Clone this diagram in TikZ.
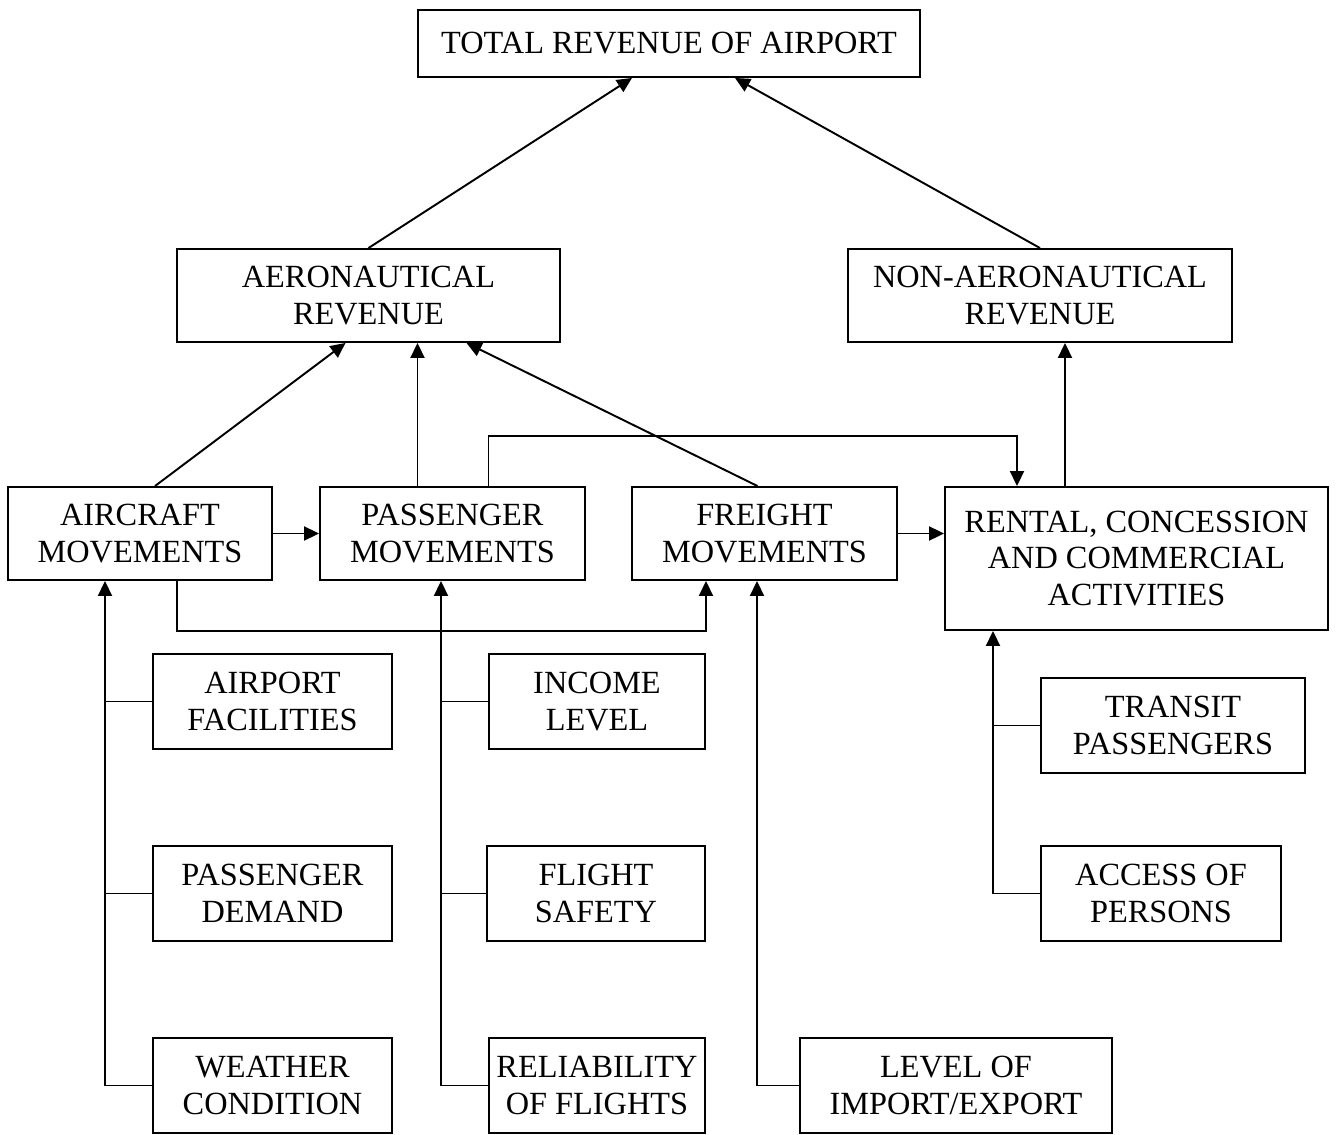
\documentclass[tikz,border=0pt]{standalone}
\usepackage{fontspec}
\setmainfont{Liberation Serif}
\usetikzlibrary{calc,arrows.meta}
\tikzset{
    box/.style={draw, line width=1.1pt, align=center, inner sep=0pt,
      font=\fontsize{18.4}{21}\selectfont},
    arr/.style={line width=1.1pt, -{Triangle[length=0.3cm,width=0.28cm]}},
    lin/.style={line width=1.1pt},
  }
\begin{document}
\begin{tikzpicture}[x=0.02cm,y=-0.02cm]
				  \useasboundingbox (0,0) rectangle (1336,1135);

				  %revenue
				  \node[box, minimum width=10.04cm, minimum height=1.34cm] (total) at (669,43.5) {TOTAL REVENUE OF AIRPORT};
				  \node[box, minimum width=7.66cm, minimum height=1.86cm] (aero) at (368.5,295.5) {AERONAUTICAL\\REVENUE};
				  \node[box, minimum width=7.68cm, minimum height=1.86cm] (nonaero) at (1040,295.5) {NON-AERONAUTICAL\\REVENUE};

				  %movements
				  \node[box, minimum width=5.28cm, minimum height=1.86cm] (aircraft) at (140,533.5) {AIRCRAFT\\MOVEMENTS};
				  \node[box, minimum width=5.3cm, minimum height=1.86cm] (passenger) at (452.5,533.5) {PASSENGER\\MOVEMENTS};
				  \node[box, minimum width=5.3cm, minimum height=1.86cm] (freight) at (764.5,533.5) {FREIGHT\\MOVEMENTS};
				  \node[box, minimum width=7.66cm, minimum height=2.86cm] (rental) at (1136.5,558.5) {RENTAL, CONCESSION\\AND COMMERCIAL\\ACTIVITIES};

				  %factors
				  \node[box, minimum width=4.78cm, minimum height=1.9cm] (facilities) at (272.5,701.5) {AIRPORT\\FACILITIES};
				  \node[box, minimum width=4.78cm, minimum height=1.9cm] (demand) at (272.5,893.5) {PASSENGER\\DEMAND};
				  \node[box, minimum width=4.78cm, minimum height=1.9cm] (weather) at (272.5,1085.5) {WEATHER\\CONDITION};
				  \node[box, minimum width=4.32cm, minimum height=1.9cm] (income) at (597,701.5) {INCOME\\LEVEL};
				  \node[box, minimum width=4.36cm, minimum height=1.9cm] (safety) at (596,893.5) {FLIGHT\\SAFETY};
				  \node[box, minimum width=4.32cm, minimum height=1.9cm] (reliability) at (597,1085.5) {RELIABILITY\\OF FLIGHTS};
				  \node[box, minimum width=6.24cm, minimum height=1.9cm] (import) at (956,1085.5) {LEVEL OF\\IMPORT/EXPORT};
				  \node[box, minimum width=5.28cm, minimum height=1.9cm] (transit) at (1173,725.5) {TRANSIT\\PASSENGERS};
				  \node[box, minimum width=4.8cm, minimum height=1.9cm] (access) at (1161,893.5) {ACCESS OF\\PERSONS};

				  %to total
				  \draw[arr] (aero.north) -- ($(total.south)+(-37,0)$);
				  \draw[arr] (nonaero.north) -- ($(total.south)+(66,0)$);

				  %to aeronautical
				  \draw[arr] ($(aircraft.north)+(15,0)$) -- ($(aero.south)+(-23,0)$);
				  \coordinate (p0) at ($(passenger.north)+(-35,0)$);
				  \draw[arr] (p0) -- (p0 |- aero.south);
				  \draw[arr] ($(freight.north)+(-7,0)$) -- ($(aero.south)+(98,0)$);

				  %to non-aeronautical
				  \coordinate (r1) at ($(rental.north)+(-71.5,0)$);
				  \draw[arr] (r1) -- (r1 |- nonaero.south);
				  \coordinate (p2) at ($(passenger.north)+(36,0)$);
				  \coordinate (r2) at ($(rental.north)+(-119.5,0)$);
				  \draw[arr] (p2) -- ++(0,-50) -| (r2);

				  %between movements
				  \draw[arr] (aircraft.east) -- (passenger.west);
				  \draw[arr] (freight.east) -- (freight.east -| rental.west);
				  \coordinate (a2) at ($(aircraft.south)+(37,0)$);
				  \coordinate (f2) at ($(freight.south)+(-58.5,0)$);
				  \draw[arr] (a2) -- ++(0,50) -| (f2);

				  %aircraft factors
				  \coordinate (a1) at ($(aircraft.south)+(-35,0)$);
				  \draw[arr] (weather.west) -| (a1);
				  \draw[lin] (facilities.west) -- (facilities.west -| a1);
				  \draw[lin] (demand.west) -- (demand.west -| a1);

				  %passenger factors
				  \coordinate (p1) at ($(passenger.south)+(-11.5,0)$);
				  \draw[arr] (reliability.west) -| (p1);
				  \draw[lin] (income.west) -- (income.west -| p1);
				  \draw[lin] (safety.west) -- (safety.west -| p1);

				  %freight factor
				  \coordinate (f1) at ($(freight.south)+(-7.5,0)$);
				  \draw[arr] (import.west) -| (f1);

				  %rental factors
				  \coordinate (r3) at ($(rental.south)+(-143.5,0)$);
				  \draw[arr] (access.west) -| (r3);
				  \draw[lin] (transit.west) -- (transit.west -| r3);
\end{tikzpicture}
\end{document}
